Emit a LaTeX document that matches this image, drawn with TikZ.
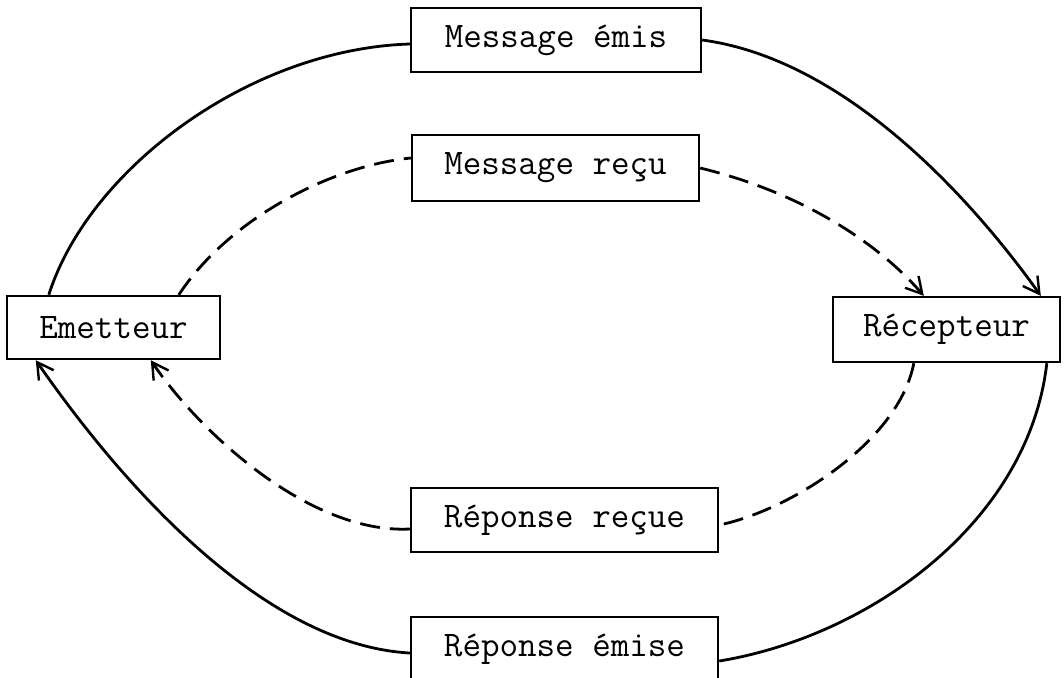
\documentclass[tikz,border=0pt]{standalone}
\usepackage{fontspec}
\usetikzlibrary{arrows.meta}
\begin{document}
\begin{tikzpicture}[x=0.5pt,y=0.5pt,
  box/.style={draw,line width=1.2pt,inner sep=0pt,font=\ttfamily\fontsize{18}{21}\selectfont},
  flow/.style={line width=1.4pt,-{Straight Barb[length=8pt,width=9pt,line width=1.2pt]}},
  flowplain/.style={line width=1.4pt},
  dflow/.style={line width=1.4pt,dash pattern=on 10pt off 5pt,-{Straight Barb[length=8pt,width=9pt,line width=1.2pt]}},
  dflowplain/.style={line width=1.4pt,dash pattern=on 10pt off 5pt}]
\useasboundingbox (0,0) rectangle (1064,-677);
\node[box,minimum width=145pt,minimum height=32pt] (emis) at (556,-40) {Message émis};
\node[box,minimum width=143.5pt,minimum height=33pt] (recu) at (555.5,-168) {Message reçu};
\node[box,minimum width=106.5pt,minimum height=31.5pt] (emet) at (113.5,-327.5) {Emetteur};
\node[box,minimum width=113.5pt,minimum height=32.5pt] (recep) at (946.5,-329.5) {Récepteur};
\node[box,minimum width=153.5pt,minimum height=32pt] (rrecu) at (564.5,-520) {Réponse reçue};
\node[box,minimum width=153.5pt,minimum height=32pt] (remise) at (564.5,-649) {Réponse émise};
% solid loop
\draw[flowplain] ([xshift=21.5pt]emet.north west) .. controls +(40,126) and +(-160,-5) .. ([yshift=-2pt]emis.west);
\draw[flow] (emis.east) .. controls +(149,-20) and +(-62,87) .. ([xshift=104.5pt]recep.north west);
\draw[flowplain] ([xshift=107.5pt]recep.south west) .. controls +(-18,-158) and +(152,25) .. ([yshift=-6pt]remise.east);
\draw[flow] ([yshift=-2pt]remise.west) .. controls +(-161,9) and +(63,-91) .. ([xshift=15pt]emet.south west);
% dashed loop
\draw[dflowplain] ([xshift=86.5pt]emet.north west) .. controls +(50,76) and +(-80,-8) .. ([yshift=5pt]recu.west);
\draw[dflow] (recu.east) .. controls +(103,-25) and +(-45,52) .. ([xshift=46pt]recep.north west);
\draw[dflowplain] ([xshift=41pt]recep.south west) .. controls +(-15,-78) and +(72,15) .. ([yshift=-2.5pt]rrecu.east);
\draw[dflow] ([yshift=-4.5pt]rrecu.west) .. controls +(-101,-5) and +(48,-71) .. ([xshift=72.5pt]emet.south west);
\end{tikzpicture}
\end{document}
